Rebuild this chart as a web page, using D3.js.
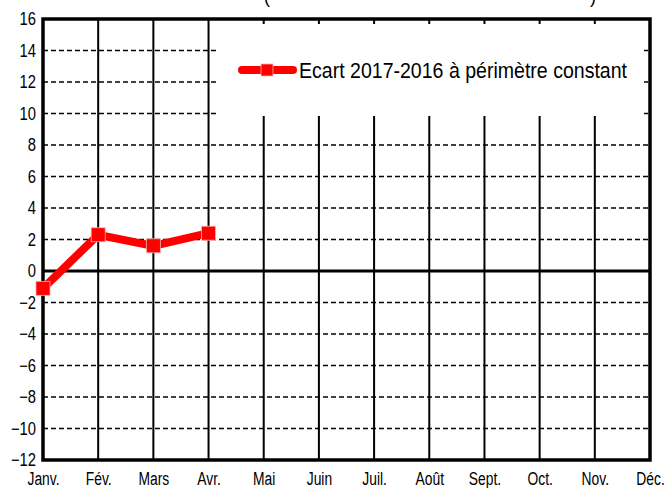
<!DOCTYPE html>
<html><head><meta charset="utf-8">
<script src="https://cdn.jsdelivr.net/npm/d3@7"></script>
<style>
html,body{margin:0;padding:0;background:#fff;}
svg{display:block;}
text{font-family:"Liberation Sans Narrow","Arial Narrow","Liberation Sans",Arial,sans-serif;fill:#000;}
</style></head>
<body>
<svg id="chart" width="665" height="488"></svg>
<script>
const months = ["Janv.","Fév.","Mars","Avr.","Mai","Juin","Juil.","Août","Sept.","Oct.","Nov.","Déc."];
const ecart = [-1.1, 2.3, 1.6, 2.4];
const yTicks = [16,14,12,10,8,6,4,2,0,-2,-4,-6,-8,-10,-12];
const seriesName = "Ecart 2017-2016 à périmètre constant";

(function () {
const svg = d3.select("#chart");
const mL = 43, mR = 650, mT = 19, mB = 460;
const x = d3.scalePoint().domain(months).range([mL, mR]);
const y = d3.scaleLinear().domain([-12, 16]).range([mB, mT]);

function narrow(sel, f) {
  sel.each(function () {
    const w = this.getComputedTextLength();
    d3.select(this).attr("textLength", w * f).attr("lengthAdjust", "spacingAndGlyphs");
  });
}

// partial title (cut off at top)
svg.append("text").attr("x", 264).attr("y", 3).attr("font-size", 18).text("(");
svg.append("text").attr("x", 590).attr("y", 3).attr("font-size", 18).text(")");

// horizontal dashed gridlines
svg.append("g").selectAll("line").data(yTicks.filter(d => d !== 0 && d !== 16 && d !== -12)).join("line")
  .attr("x1", mL).attr("x2", mR)
  .attr("y1", d => y(d)).attr("y2", d => y(d))
  .attr("stroke", "#000").attr("stroke-width", 1.3).attr("stroke-dasharray", "5,3");

// vertical gridlines
svg.append("g").selectAll("line").data(months.slice(1, -1)).join("line")
  .attr("x1", d => x(d)).attr("x2", d => x(d))
  .attr("y1", mT).attr("y2", mB)
  .attr("stroke", "#000").attr("stroke-width", 2);

// legend box (white, covers grid)
svg.append("rect").attr("x", 216).attr("y", 24).attr("width", 428).attr("height", 92).attr("fill", "#fff");

// zero line
svg.append("line").attr("x1", mL).attr("x2", mR).attr("y1", y(0)).attr("y2", y(0))
  .attr("stroke", "#000").attr("stroke-width", 3);

// frame
svg.append("rect").attr("x", mL).attr("y", mT).attr("width", mR - mL).attr("height", mB - mT)
  .attr("fill", "none").attr("stroke", "#000").attr("stroke-width", 3.5);

// y axis labels
const yAxis = d3.axisLeft(y).tickValues(yTicks).tickSize(0).tickPadding(7).tickFormat(d3.format("d"));
const gy = svg.append("g").attr("transform", `translate(${mL},0)`).call(yAxis);
gy.select(".domain").remove();
gy.attr("font-family", null).attr("font-size", null);
gy.selectAll("text").attr("font-size", 18).attr("fill", "#000").call(narrow, 0.82);

// x axis labels
const xAxis = d3.axisBottom(x).tickSize(0).tickPadding(12);
const gx = svg.append("g").attr("transform", `translate(0,${mB})`).call(xAxis);
gx.select(".domain").remove();
gx.attr("font-family", null).attr("font-size", null);
gx.selectAll("text").attr("font-size", 18).attr("fill", "#000").call(narrow, 0.77);

// series line
const data = ecart.map((v, i) => ({m: months[i], v}));
svg.append("path").datum(data)
  .attr("d", d3.line().x(d => x(d.m)).y(d => y(d.v)))
  .attr("fill", "none").attr("stroke", "#ff0000").attr("stroke-width", 8).attr("stroke-linejoin", "miter");
svg.append("g").selectAll("rect").data(data).join("rect")
  .attr("x", d => x(d.m) - 7).attr("y", d => y(d.v) - 7)
  .attr("width", 14).attr("height", 14)
  .attr("fill", "#ff0000").attr("stroke", "#ffb0b0").attr("stroke-width", 0.8);

// legend
const lg = svg.append("g");
lg.append("line").attr("x1", 242).attr("x2", 293).attr("y1", 70).attr("y2", 70)
  .attr("stroke", "#ff0000").attr("stroke-width", 8).attr("stroke-linecap", "round");
lg.append("rect").attr("x", 261).attr("y", 64).attr("width", 12).attr("height", 12)
  .attr("fill", "#ff0000").attr("stroke", "#ffb0b0").attr("stroke-width", 0.8);
lg.append("text").attr("x", 299).attr("y", 78).attr("font-size", 22)
  .attr("textLength", 328).attr("lengthAdjust", "spacingAndGlyphs").text(seriesName);
})();
</script>
</body></html>
